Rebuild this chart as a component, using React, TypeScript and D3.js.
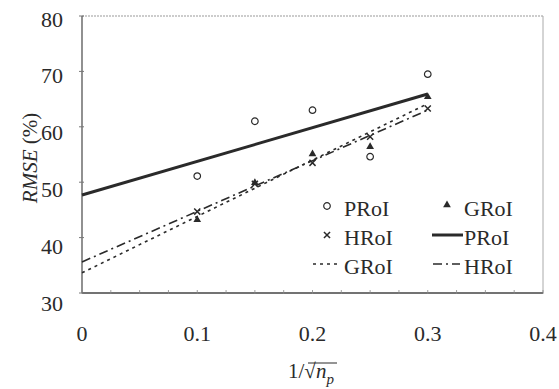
import React from "react";
import * as d3 from "d3";

const xValues = [0.1, 0.15, 0.2, 0.25, 0.3];
const proiValues = [51.1, 61.0, 63.0, 54.6, 69.5];
const groiValues = [43.2, 49.9, 55.1, 56.4, 65.4];
const hroiValues = [44.7, 49.7, 53.5, 58.2, 63.3];
const fitRange = [0, 0.3];
const xTicks = [0, 0.1, 0.2, 0.3, 0.4];
const yTicks = [30, 40, 50, 60, 70, 80];
const xMinorTicks = d3.range(0, 0.4001, 0.025);

const W = 559, H = 389;
const L = 82, R = 543, T = 16, B = 293;
const INK = "#2a2a2a";
const FONT = "'Liberation Serif', 'Times New Roman', serif";

function fit(xs: number[], ys: number[]) {
  const mx = d3.mean(xs) as number;
  const my = d3.mean(ys) as number;
  let num = 0, den = 0;
  xs.forEach((x, i) => { num += (x - mx) * (ys[i] - my); den += (x - mx) * (x - mx); });
  const slope = num / den;
  const icpt = my - slope * mx;
  return fitRange.map((x) => [x, icpt + slope * x] as [number, number]);
}

export default function App() {
  const x = d3.scaleLinear().domain([0, 0.4]).range([L, R]);
  const y = d3.scaleLinear().domain([30, 80]).range([B, T]);
  const yLabel = d3.scaleLinear().domain([30, 80]).range([303, 19]);
  const line = d3.line<[number, number]>().x((d) => x(d[0])).y((d) => y(d[1]));

  const circle = d3.symbol().type(d3.symbolCircle).size(34)();
  const tri = d3.symbol().type(d3.symbolTriangle).size(26)();
  const cross = d3.symbol().type(d3.symbolX).size(26)();

  const lines = [
    { data: fit(xValues, proiValues), w: 3, dash: "" },
    { data: fit(xValues, groiValues), w: 1.6, dash: "3,4" },
    { data: fit(xValues, hroiValues), w: 1.6, dash: "9,4,2,4" },
  ];

  const marker = (kind: string) =>
    kind === "c" ? <path d={circle as string} fill="white" stroke={INK} strokeWidth={1.2} />
    : kind === "t" ? <path d={tri as string} fill={INK} />
    : <path d={cross as string} fill="none" stroke={INK} strokeWidth={1.5} />;

  const points = [
    { vals: proiValues, kind: "c" },
    { vals: groiValues, kind: "t" },
    { vals: hroiValues, kind: "x" },
  ];

  return (
    <svg width={W} height={H} style={{ position: "absolute", left: 0, top: 0, background: "white" }}
      fontFamily={FONT}>
      <rect x={0} y={0} width={W} height={H} fill="white" />
      {/* frame */}
      <line x1={L} y1={T} x2={R} y2={T} stroke="#999" strokeWidth={1.2} strokeDasharray="2,1" />
      <line x1={R} y1={T} x2={R} y2={B} stroke="#aaa" strokeWidth={1} />
      <line x1={L} y1={T} x2={L} y2={B} stroke="#555" strokeWidth={1.3} />
      <line x1={L} y1={B} x2={R} y2={B} stroke="#444" strokeWidth={1.4} />
      {yTicks.map((t) => (
        <line key={"yt" + t} x1={L - 3} x2={L + 2} y1={y(t)} y2={y(t)} stroke="#777" strokeWidth={1} />
      ))}
      {xMinorTicks.map((t, i) => (
        <line key={"xt" + i} x1={x(t)} x2={x(t)} y1={B - 3} y2={B + 1} stroke="#888" strokeWidth={0.8} />
      ))}
      {/* tick labels */}
      {yTicks.map((t) => (
        <text key={"yl" + t} x={63} y={yLabel(t) + 7.5} textAnchor="end" fontSize={22} fill={INK}>{t}</text>
      ))}
      {xTicks.map((t) => (
        <text key={"xl" + t} x={x(t)} y={341} textAnchor="middle" fontSize={22} fill={INK}>{t === 0 ? "0" : t.toString()}</text>
      ))}
      {/* axis titles */}
      <text transform="translate(37,158) rotate(-90)" textAnchor="middle" fontSize={21} fill={INK}>
        <tspan fontStyle="italic">RMSE</tspan> (%)
      </text>
      <text x={288} y={378} fontSize={21} fill={INK}>
        1/√<tspan fontStyle="italic">n</tspan><tspan fontStyle="italic" fontSize={15} dy={6}>p</tspan>
      </text>
      <line x1={308} x2={337} y1={363} y2={363} stroke={INK} strokeWidth={1} />
      {/* fit lines */}
      {lines.map((l, i) => (
        <path key={"l" + i} d={line(l.data) as string} fill="none" stroke={INK} strokeWidth={l.w}
          strokeDasharray={l.dash || undefined} />
      ))}
      {/* points */}
      {points.map((s) =>
        s.vals.map((v, i) => (
          <g key={s.kind + i} transform={`translate(${x(xValues[i])},${y(v)})`}>{marker(s.kind)}</g>
        ))
      )}
      {/* legend */}
      <g fontSize={22} fill={INK}>
        <g transform="translate(327,206)">{marker("c")}</g>
        <text x={344} y={216}>PRoI</text>
        <g transform="translate(447,205)">{marker("t")}</g>
        <text x={464} y={216}>GRoI</text>
        <g transform="translate(327,235)">{marker("x")}</g>
        <text x={344} y={245}>HRoI</text>
        <line x1={432} x2={463} y1={235} y2={235} stroke={INK} strokeWidth={3} />
        <text x={464} y={245}>PRoI</text>
        <line x1={313} x2={338} y1={264} y2={264} stroke={INK} strokeWidth={1.6} strokeDasharray="3,4" />
        <text x={344} y={274}>GRoI</text>
        <line x1={433} x2={460} y1={264} y2={264} stroke={INK} strokeWidth={1.6} strokeDasharray="9,4,2,4" />
        <text x={464} y={274}>HRoI</text>
      </g>
    </svg>
  );
}
